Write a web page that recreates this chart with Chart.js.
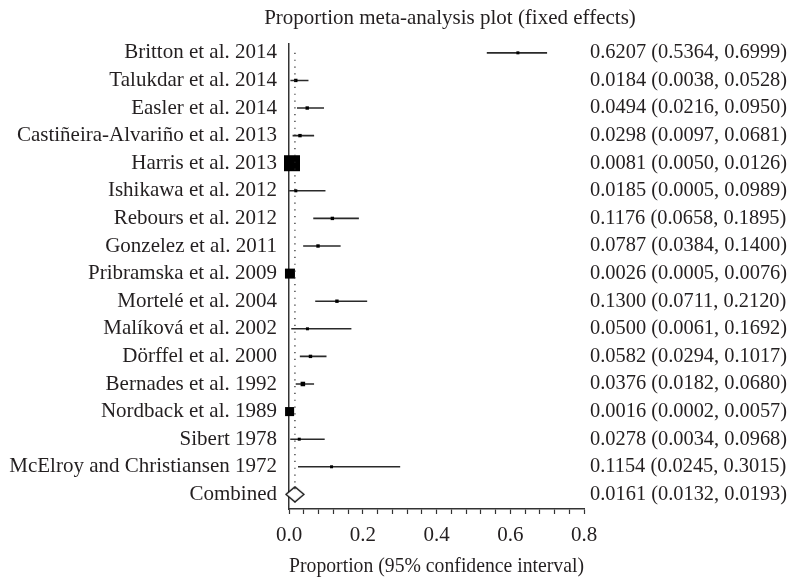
<!DOCTYPE html>
<html>
<head>
<meta charset="utf-8">
<script src="https://cdn.jsdelivr.net/npm/chart.js@4"></script>
<style>
  html, body { margin: 0; padding: 0; background: #fff; }
  #wrap { width: 788px; height: 580px; position: relative; }
</style>
</head>
<body>
<div id="wrap"><canvas id="c"></canvas></div>
<script>
const studies = ['Britton et al. 2014', 'Talukdar et al. 2014', 'Easler et al. 2014', 'Castiñeira-Alvariño et al. 2013',
  'Harris et al. 2013', 'Ishikawa et al. 2012', 'Rebours et al. 2012', 'Gonzelez et al. 2011', 'Pribramska et al. 2009',
  'Mortelé et al. 2004', 'Malíková et al. 2002', 'Dörffel et al. 2000', 'Bernades et al. 1992', 'Nordback et al. 1989',
  'Sibert 1978', 'McElroy and Christiansen 1972', 'Combined']
const est = [0.6207, 0.0184, 0.0494, 0.0298, 0.0081, 0.0185, 0.1176, 0.0787, 0.0026, 0.1300, 0.0500, 0.0582, 0.0376, 0.0016, 0.0278, 0.1154, 0.0161]
const lower = [0.5364, 0.0038, 0.0216, 0.0097, 0.0050, 0.0005, 0.0658, 0.0384, 0.0005, 0.0711, 0.0061, 0.0294, 0.0182, 0.0002, 0.0034, 0.0245, 0.0132]
const upper = [0.6999, 0.0528, 0.0950, 0.0681, 0.0126, 0.0989, 0.1895, 0.1400, 0.0076, 0.2120, 0.1692, 0.1017, 0.0680, 0.0057, 0.0968, 0.3015, 0.0193]
// relative study weights (box area)
const weights = [3.5, 4.5, 4.5, 4.5, 100, 3.5, 4.5, 4.5, 39, 4.5, 3.5, 4.5, 8, 32, 3.5, 3.5]
const xMajor = [0, 0.2, 0.4, 0.6, 0.8]

const TXT = '#231f20'
const FAM = '"Liberation Serif", "Times New Roman", serif'
const FONT = { family: FAM, size: 21 }
const FONT_CI = { family: FAM, size: 20.4 }
const FONT_AX = { family: FAM, size: 22 }
const nStudy = weights.length
const combined = studies.length - 1
const ciText = est.map((v, i) => v.toFixed(4) + ' (' + lower[i].toFixed(4) + ', ' + upper[i].toFixed(4) + ')')

// CI whiskers as one broken line
const whiskers = []
for (let i = 0; i < nStudy; i++) {
  whiskers.push({ x: lower[i], y: i }, { x: upper[i], y: i }, { x: upper[i], y: null })
}
const boxes = est.slice(0, nStudy).map((v, i) => ({ x: v, y: i }))
const boxRadius = weights.map(w => 16 * Math.sqrt(w / 100) / 1.414)

// open diamond marker for the pooled estimate
const diamond = document.createElement('canvas')
diamond.width = 20; diamond.height = 17
{
  const g = diamond.getContext('2d')
  g.fillStyle = '#fff'; g.strokeStyle = '#111'; g.lineWidth = 1.4
  g.beginPath()
  g.moveTo(1, 8.5); g.lineTo(10, 1); g.lineTo(19, 8.5); g.lineTo(10, 16); g.closePath()
  g.fill(); g.stroke()
}

const rowTicks = s => { s.ticks = studies.map((n, i) => ({ value: i })) }

const titlePlugin = {
  id: 'titleAt',
  afterDraw(chart) {
    const ctx = chart.ctx
    ctx.save()
    ctx.font = FONT.size + 'px ' + FONT.family
    ctx.fillStyle = TXT
    ctx.textAlign = 'center'
    ctx.textBaseline = 'middle'
    ctx.fillText('Proportion meta-analysis plot (fixed effects)', 450, 18)
    ctx.restore()
  },
}

new Chart(document.getElementById('c'), {
  type: 'scatter',
  data: {
    datasets: [
      { label: 'pooled', data: [{ x: est[combined], y: 0 }, { x: est[combined], y: combined }], showLine: true,
        borderColor: '#222', borderWidth: 1.2, borderDash: [1.2, 5.6], pointRadius: 0, order: 0 },
      { label: 'studies', data: boxes, pointStyle: 'rect', pointRadius: boxRadius, pointBorderWidth: 0,
        backgroundColor: '#000', clip: false, order: 1 },
      { label: 'ci', data: whiskers, showLine: true, spanGaps: false, borderColor: '#2a2a2a', borderWidth: 1.6,
        pointRadius: 0, order: 2 },
      { label: 'combined', data: [{ x: est[combined], y: combined }], pointStyle: diamond, clip: false, order: 3 },
    ],
  },
  options: {
    responsive: true, maintainAspectRatio: false, animation: false,
    layout: { padding: { top: 44 } },
    plugins: { legend: { display: false }, tooltip: { enabled: false } },
    scales: {
      x: {
        type: 'linear', min: 0, max: 0.8,
        afterFit: s => { s.height = 71 },
        ticks: { stepSize: 0.04, autoSkip: false, maxRotation: 0, padding: 9, color: TXT, font: FONT,
          callback: v => xMajor.some(m => Math.abs(m - v) < 1e-6) ? v.toFixed(1) : '' },
        grid: { drawOnChartArea: false, drawTicks: true, tickLength: 5, tickColor: '#333', tickWidth: 1.2 },
        border: { display: true, color: '#333', width: 1.5 },
        title: { display: true, text: 'Proportion (95% confidence interval)', color: TXT, font: FONT_AX, padding: { top: 4, bottom: 1 } },
      },
      y: {
        type: 'linear', reverse: true, min: -0.32, max: 16.53,
        afterFit: s => { s.width = 289 },
        afterBuildTicks: rowTicks,
        ticks: { autoSkip: false, padding: 12, color: TXT, font: FONT, callback: v => studies[v] },
        grid: { display: false, drawTicks: false },
        border: { display: true, color: '#333', width: 1.5 },
      },
      y2: {
        type: 'linear', position: 'right', reverse: true, min: -0.32, max: 16.53,
        afterFit: s => { s.width = 204 },
        afterBuildTicks: rowTicks,
        ticks: { autoSkip: false, padding: 6, color: TXT, font: FONT_CI, callback: v => ciText[v] },
        grid: { display: false, drawTicks: false },
        border: { display: false },
      },
    },
  },
  plugins: [titlePlugin],
})
</script>
</body>
</html>
